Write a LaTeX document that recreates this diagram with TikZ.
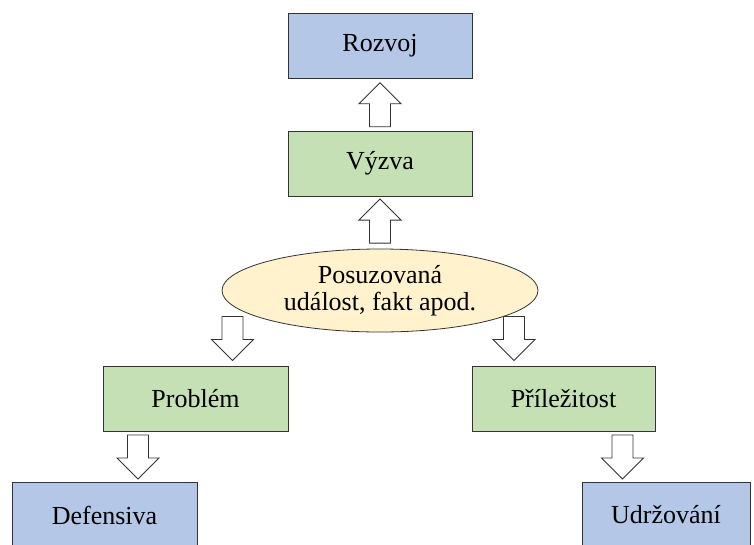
\documentclass[tikz,border=0pt]{standalone}
\usepackage{fontspec}
\setmainfont{Liberation Serif}
\usetikzlibrary{calc,shapes.geometric}
\definecolor{boxblue}{HTML}{B4C7E7}
\definecolor{boxgreen}{HTML}{C5E0B4}
\definecolor{ellyellow}{HTML}{FFF2CC}
\definecolor{edge}{HTML}{333333}
\tikzset{
  box/.style={draw=edge, line width=1pt, minimum width=184pt, minimum height=65pt, inner sep=0pt, font=\fontsize{26}{30}\selectfont},
  bluebox/.style={box, fill=boxblue},
  greenbox/.style={box, fill=boxgreen},
  event/.style={ellipse, draw=edge, line width=0.8pt, fill=ellyellow, minimum width=316pt, minimum height=83pt, inner sep=0pt, align=center, font=\fontsize{26}{27.5}\selectfont},
  blockarr/.style={draw=edge, line width=0.9pt, fill=white, line join=miter},
  pics/uparr/.style={code={
    \draw[blockarr] (0,-22) -- (21,-1) -- (10.5,-1) -- (10.5,22) -- (-10.5,22) -- (-10.5,-1) -- (-21,-1) -- cycle;
  }},
  pics/downarr/.style={code={
    \draw[blockarr] (0,22) -- (21,1) -- (10.5,1) -- (10.5,-22) -- (-10.5,-22) -- (-10.5,1) -- (-21,1) -- cycle;
  }}
}
\begin{document}
\begin{tikzpicture}[x=1pt,y=-1pt]
\useasboundingbox (0,0) rectangle (754,544);
\begin{scope}
\clip (0,0) rectangle (754,544);
\node[bluebox] (rozvoj) at (380,46) {Rozvoj};
\node[greenbox] (vyzva) at (380,163.5) {Výzva};
\node[event] (udalost) at (380,290.5) {Posuzovaná\\událost, fakt apod.};
\node[greenbox, minimum width=185pt] (problem) at (195.5,398.5) {Problém};
\node[greenbox, minimum width=183pt] (prilezitost) at (563.5,398.5) {Příležitost};
\node[bluebox, minimum width=185pt, minimum height=66pt] (defensiva) at (104.5,515) {Defensiva};
\node[bluebox, minimum width=168pt, minimum height=66pt] (udrzovani) at (666,515) {Udržování};
\end{scope}
\pic at ($(rozvoj.south)!0.5!(vyzva.north)$) {uparr};
\pic at ($(vyzva.south)!0.5!(udalost.north)+(0,-1.5)$) {uparr};
\pic at ($(problem.north)+(37,-27)$) {downarr};
\pic at ($(prilezitost.north)+(-49.5,-27)$) {downarr};
\pic at ($(problem.south)+(-57.5,25.5)$) {downarr};
\pic at ($(prilezitost.south)+(59,25.5)$) {downarr};
\end{tikzpicture}
\end{document}
